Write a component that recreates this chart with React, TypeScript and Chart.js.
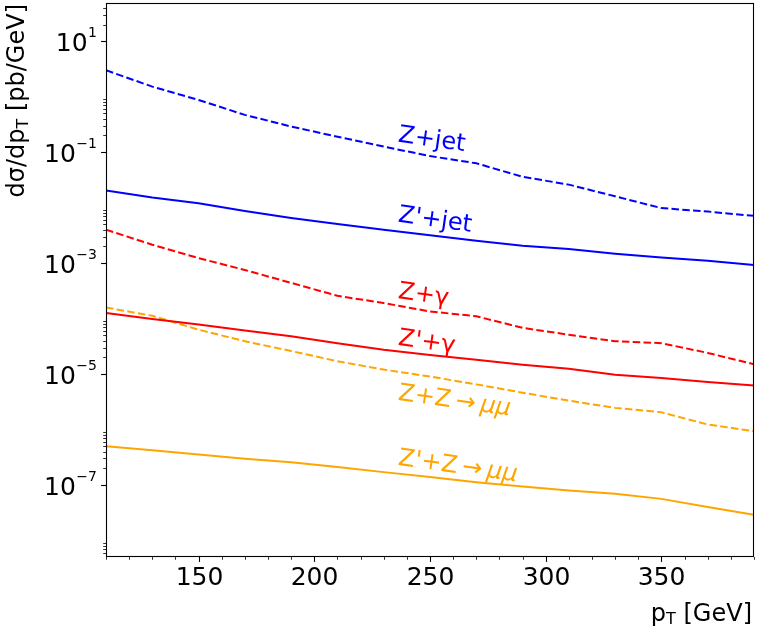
import { useEffect, useRef } from 'react';
import { Chart, registerables } from 'chart.js';

Chart.register(...registerables);

// transverse momentum grid [GeV]
const pt = [110, 130, 150, 170, 190, 210, 230, 250, 270, 290, 310, 330, 350, 370, 390];

// dsigma/dpT [pb/GeV]
const zJet = [3.0, 1.52, 0.875, 0.47, 0.29, 0.19, 0.126, 0.085, 0.063, 0.036, 0.026, 0.016, 0.0098, 0.0085, 0.0071];
const zpJet = [0.0203, 0.0152, 0.012, 0.0087, 0.0065, 0.00505, 0.004, 0.00318, 0.00252, 0.00205, 0.00179, 0.00148, 0.00126, 0.0011, 0.00092];
const zGamma = [0.004, 0.00214, 0.00123, 0.00075, 0.00044, 0.000257, 0.00019, 0.000134, 0.00011, 6.8e-5, 5.1e-5, 3.9e-5, 3.6e-5, 2.4e-5, 1.5e-5];
const zpGamma = [1.26e-4, 9.8e-5, 7.8e-5, 6.1e-5, 4.8e-5, 3.6e-5, 2.75e-5, 2.2e-5, 1.8e-5, 1.47e-5, 1.24e-5, 9.7e-6, 8.5e-6, 7.2e-6, 6.2e-6];
const zZ = [1.58e-4, 1.12e-4, 6.3e-5, 3.9e-5, 2.6e-5, 1.7e-5, 1.2e-5, 9.0e-6, 6.5e-6, 4.6e-6, 3.3e-6, 2.45e-6, 2.04e-6, 1.23e-6, 9.3e-7];
const zpZ = [5.0e-7, 4.2e-7, 3.55e-7, 2.97e-7, 2.57e-7, 2.1e-7, 1.7e-7, 1.39e-7, 1.12e-7, 9.4e-8, 7.9e-8, 6.9e-8, 5.6e-8, 4.0e-8, 2.9e-8];

const seriesNames = ['Z+jet', "Z'+jet", 'Z+γ', "Z'+γ", 'Z+Z→μμ', "Z'+Z→μμ"];
const seriesData = [zJet, zpJet, zGamma, zpGamma, zZ, zpZ];
const seriesColors = ['#0000ff', '#0000ff', '#ff0000', '#ff0000', '#ffa500', '#ffa500'];
const seriesDashed = [true, false, true, false, true, false];

// in-plot text labels (data coordinates of left baseline)
const labelX = 236;
const labelY = [0.155, 0.00562, 2.34e-4, 3.37e-5, 3.44e-6, 2.32e-7];

const xMin = 110;
const xMax = 390;
const yMin = Math.pow(10, -8.3);
const yMax = Math.pow(10, 1.69);
const xMajor = [150, 200, 250, 300, 350];
const yMajorExp = [1, -1, -3, -5, -7];
const yMinorExp = [1, -1, -3, -5, -7, -9];

const FONT = '"DejaVu Sans", sans-serif';

function drawParts(ctx, parts, x, y, big, small, sub) {
  // parts: [text, isSub]
  let cx = x;
  for (const [t, isSub] of parts) {
    ctx.font = `${isSub ? small : big}px ${FONT}`;
    ctx.fillText(t, cx, isSub ? y + sub : y);
    cx += ctx.measureText(t).width;
  }
}

function partsWidth(ctx, parts, big, small) {
  let w = 0;
  for (const [t, isSub] of parts) {
    ctx.font = `${isSub ? small : big}px ${FONT}`;
    w += ctx.measureText(t).width;
  }
  return w;
}

// split "Z+Z→μμ" into upright text, spaced arrow and italic mu's
function labelParts(name) {
  const i = name.indexOf('→');
  if (i < 0) return [[name, '']];
  return [
    [name.slice(0, i), ''],
    ['\u2009→\u2009', ''],
    [name.slice(i + 1), 'italic '],
  ];
}

const mplAxes = {
  id: 'mplAxes',
  afterDraw(chart) {
    const { ctx, chartArea: a } = chart;
    const xs = chart.scales.x;
    const ys = chart.scales.y;
    ctx.save();

    // series labels
    seriesNames.forEach((name, i) => {
      ctx.save();
      ctx.translate(xs.getPixelForValue(labelX), ys.getPixelForValue(labelY[i]));
      ctx.rotate((8 * Math.PI) / 180);
      ctx.fillStyle = seriesColors[i];
      ctx.textAlign = 'left';
      ctx.textBaseline = 'alphabetic';
      let cx = 0;
      for (const [t, style] of labelParts(name)) {
        ctx.font = `${style}24px ${FONT}`;
        ctx.fillText(t, cx, 0);
        cx += ctx.measureText(t).width;
      }
      ctx.restore();
    });

    // frame
    ctx.strokeStyle = '#000';
    ctx.lineWidth = 1.1;
    ctx.strokeRect(a.left + 0.5, a.top + 0.5, a.right - a.left - 1, a.bottom - a.top - 1);

    // x ticks
    ctx.fillStyle = '#000';
    ctx.textAlign = 'center';
    ctx.textBaseline = 'alphabetic';
    for (let v = xMin; v <= xMax; v += 10) {
      const px = Math.round(xs.getPixelForValue(v)) + 0.5;
      const major = xMajor.includes(v);
      ctx.lineWidth = major ? 1.1 : 0.8;
      ctx.beginPath();
      ctx.moveTo(px, a.bottom);
      ctx.lineTo(px, a.bottom + (major ? 4.9 : 2.8));
      ctx.stroke();
      if (major) {
        ctx.font = `25px ${FONT}`;
        ctx.fillText(String(v), px, 585);
      }
    }

    // y minor ticks
    ctx.lineWidth = 0.8;
    for (const e of yMinorExp) {
      for (let k = 2; k <= 9; k++) {
        const v = k * Math.pow(10, e);
        if (v < yMin || v > yMax) continue;
        const py = Math.round(ys.getPixelForValue(v)) + 0.5;
        ctx.beginPath();
        ctx.moveTo(a.left, py);
        ctx.lineTo(a.left - 2.8, py);
        ctx.stroke();
      }
    }

    // y major ticks + labels
    ctx.lineWidth = 1.1;
    ctx.textAlign = 'right';
    for (const e of yMajorExp) {
      const py = Math.round(ys.getPixelForValue(Math.pow(10, e))) + 0.5;
      ctx.beginPath();
      ctx.moveTo(a.left, py);
      ctx.lineTo(a.left - 4.9, py);
      ctx.stroke();
      const ex = e < 0 ? '\u2212' + String(-e) : String(e);
      ctx.font = `14px ${FONT}`;
      const ew = ctx.measureText(ex).width;
      ctx.fillText(ex, 97, py - 4.3);
      ctx.font = `25px ${FONT}`;
      ctx.fillText('10', 97 - ew - 0.5, py + 9.2);
    }

    // x axis title (right aligned)
    ctx.textAlign = 'left';
    const xParts = [['p', false], ['T', true], [' [GeV]', false]];
    const xw = partsWidth(ctx, xParts, 24, 16);
    drawParts(ctx, xParts, a.right - 2 - xw, 620.5, 24, 16, 3.5);

    // y axis title (top aligned)
    const yParts = [['dσ/dp', false], ['T', true], [' [pb/GeV]', false]];
    const yw = partsWidth(ctx, yParts, 24, 16);
    ctx.translate(24, a.top);
    ctx.rotate(-Math.PI / 2);
    drawParts(ctx, yParts, -yw - 1, 0, 24, 16, 3.5);

    ctx.restore();
  },
};

export default function App() {
  const canvasRef = useRef(null);

  useEffect(() => {
    const chart = new Chart(canvasRef.current, {
      type: 'line',
      data: {
        datasets: seriesNames.map((name, i) => ({
          label: name,
          data: pt.map((x, j) => ({ x, y: seriesData[i][j] })),
          borderColor: seriesColors[i],
          borderWidth: 2,
          borderDash: seriesDashed[i] ? [7.5, 3.3] : [],
          pointRadius: 0,
          tension: 0,
          fill: false,
        })),
      },
      options: {
        animation: false,
        responsive: true,
        maintainAspectRatio: false,
        layout: { padding: { top: 3, right: 5, left: 0, bottom: 0 } },
        plugins: {
          legend: { display: false },
          tooltip: { enabled: false },
        },
        scales: {
          x: {
            type: 'linear',
            min: xMin,
            max: xMax,
            grid: { display: false },
            border: { display: false },
            ticks: { display: false },
            afterFit: (s) => {
              s.height = 80;
            },
          },
          y: {
            type: 'logarithmic',
            min: yMin,
            max: yMax,
            grid: { display: false },
            border: { display: false },
            ticks: { display: false },
            afterFit: (s) => {
              s.width = 106;
            },
          },
        },
      },
      plugins: [mplAxes],
    });
    return () => chart.destroy();
  }, []);

  return (
    <div style={{ position: 'fixed', left: 0, top: 0, width: 759, height: 637, background: '#fff' }}>
      <canvas ref={canvasRef} />
    </div>
  );
}
